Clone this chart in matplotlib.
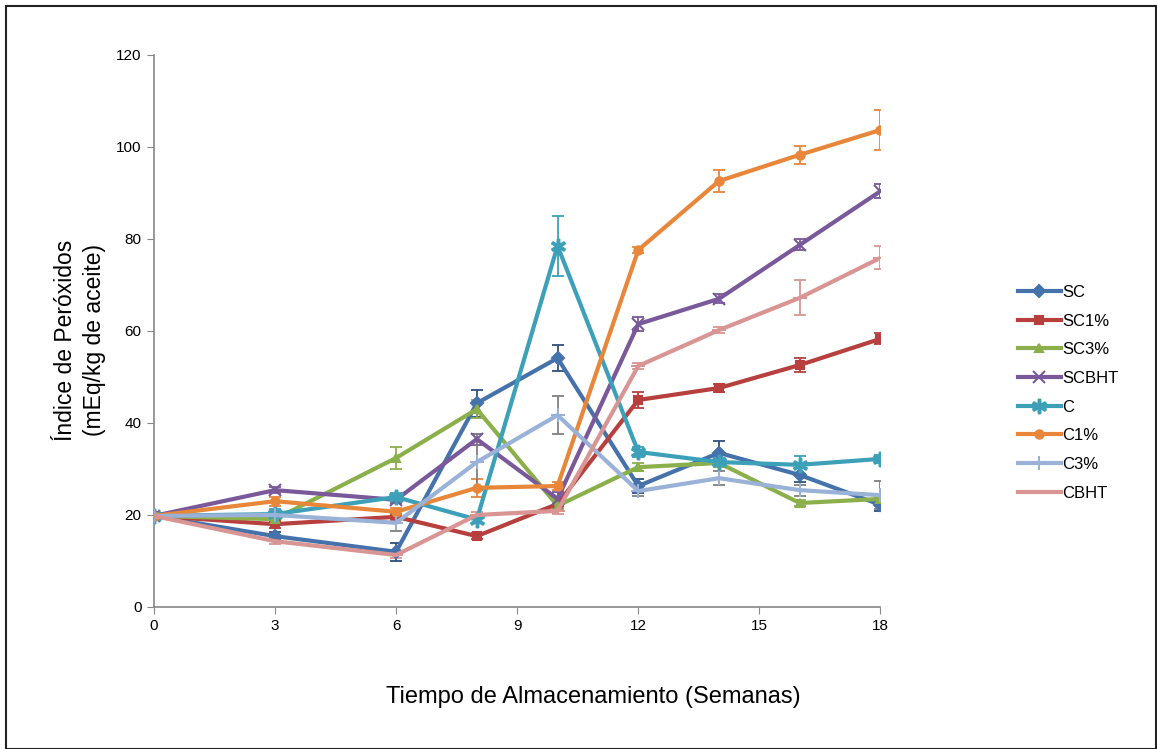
import matplotlib
matplotlib.use("Agg")
import matplotlib.pyplot as plt
from matplotlib.patches import Rectangle

plt.rcParams['font.family'] = ['Liberation Sans', 'DejaVu Sans']

weeks = [0, 3, 6, 8, 10, 12, 14, 16, 18]
series_names = ["SC", "SC1%", "SC3%", "SCBHT", "C", "C1%", "C3%", "CBHT"]

sc = [19.8, 15.4, 12.0, 44.3, 54.1, 26.3, 33.5, 28.7, 22.2]
sc1 = [19.8, 18.0, 19.6, 15.4, 22.4, 45.0, 47.6, 52.6, 58.3]
sc3 = [19.8, 19.1, 32.4, 43.0, 22.0, 30.4, 31.3, 22.6, 23.5]
scbht = [19.8, 25.4, 23.3, 36.5, 23.5, 61.5, 67.0, 78.7, 90.4]
c = [19.8, 20.2, 23.9, 19.0, 78.5, 33.7, 31.5, 30.9, 32.2]
c1 = [19.8, 23.0, 20.7, 25.9, 26.3, 77.6, 92.6, 98.3, 103.7]
c3 = [19.8, 20.0, 18.3, 31.5, 41.7, 25.2, 28.0, 25.4, 24.3]
cbht = [19.8, 14.3, 11.3, 20.0, 20.9, 52.4, 60.2, 67.2, 75.9]

sc_err = [0.3, 0.8, 2.0, 2.9, 2.8, 1.5, 2.6, 1.5, 1.4]
sc1_err = [0.3, 0.8, 0.6, 0.6, 0.6, 1.8, 0.8, 1.5, 1.2]
sc3_err = [0.3, 0.8, 2.3, 2.0, 0.6, 0.8, 0.6, 0.6, 0.6]
scbht_err = [0.3, 0.6, 0.6, 1.2, 1.5, 1.5, 1.0, 1.2, 1.5]
c_err = [0.3, 1.0, 0.8, 0.8, 6.5, 1.0, 0.8, 2.0, 0.8]
c1_err = [0.3, 1.0, 0.8, 2.0, 0.8, 0.6, 2.3, 1.9, 4.4]
c3_err = [0.3, 0.8, 1.8, 6.0, 4.2, 1.0, 1.5, 1.2, 3.0]
cbht_err = [0.3, 0.6, 0.6, 0.6, 0.6, 0.6, 0.6, 3.8, 2.5]

values = [sc, sc1, sc3, scbht, c, c1, c3, cbht]
errors = [sc_err, sc1_err, sc3_err, scbht_err, c_err, c1_err, c3_err, cbht_err]
colors = ["#4672AB", "#B7403E", "#8BB04B", "#79599A", "#3CA1B8", "#E8873A", "#9AB2D8", "#D89594"]
err_colors = ["#2E4F7E", "#B7403E", "#8BB04B", "#79599A", "#3CA1B8", "#E8873A", "#808080", "#D89594"]
markers = ["D", "s", "^", "x", "$\u2217$", "o", "+", "_"]
msizes = [6, 6, 6, 9, 10, 6, 10, 10]

fig = plt.figure(figsize=(11.57, 7.49), dpi=100)
ax = fig.add_axes([0.133, 0.1896, 0.628, 0.737])

for name, v, e, col, ec, m, ms in zip(series_names, values, errors, colors, err_colors, markers, msizes):
    ax.errorbar(weeks, v, yerr=e, fmt='none', ecolor=ec, elinewidth=1.3, capsize=4, capthick=1.3, zorder=2)
    ax.plot(weeks, v, color=col, lw=3, marker=m, markersize=ms, markeredgewidth=1.5,
            markerfacecolor=col, markeredgecolor=col, label=name, zorder=3)

ax.set_xlim(0, 18)
ax.set_ylim(0, 120)
ax.set_xticks([0, 3, 6, 9, 12, 15, 18])
ax.set_yticks(range(0, 121, 20))
for s in ["top", "right"]:
    ax.spines[s].set_visible(False)
for s in ["left", "bottom"]:
    ax.spines[s].set_color("#888888")
    ax.spines[s].set_linewidth(1.2)
ax.tick_params(axis='both', direction='out', color="#888888", length=5, labelsize=11, pad=4)

fig.text(593 / 1157, 1 - 697 / 749, "Tiempo de Almacenamiento (Semanas)", fontsize=17,
         ha='center', va='center')
fig.text(80 / 1157, 1 - 340 / 749, "Índice de Peróxidos\n(mEq/kg de aceite)", fontsize=16.5,
         ha='center', va='center', rotation=90, linespacing=1.35, multialignment='center')

leg = ax.legend(loc='center left', bbox_to_anchor=(1.168, 0.388), frameon=False, fontsize=12,
                handlelength=2.6, labelspacing=0.82, handletextpad=0.1)
ax.figure.add_artist(Rectangle((0.005, 0.0), 0.994, 0.992, transform=fig.transFigure,
                               fill=False, edgecolor="#222222", lw=1.5))

fig.savefig("out.png", dpi=100)
